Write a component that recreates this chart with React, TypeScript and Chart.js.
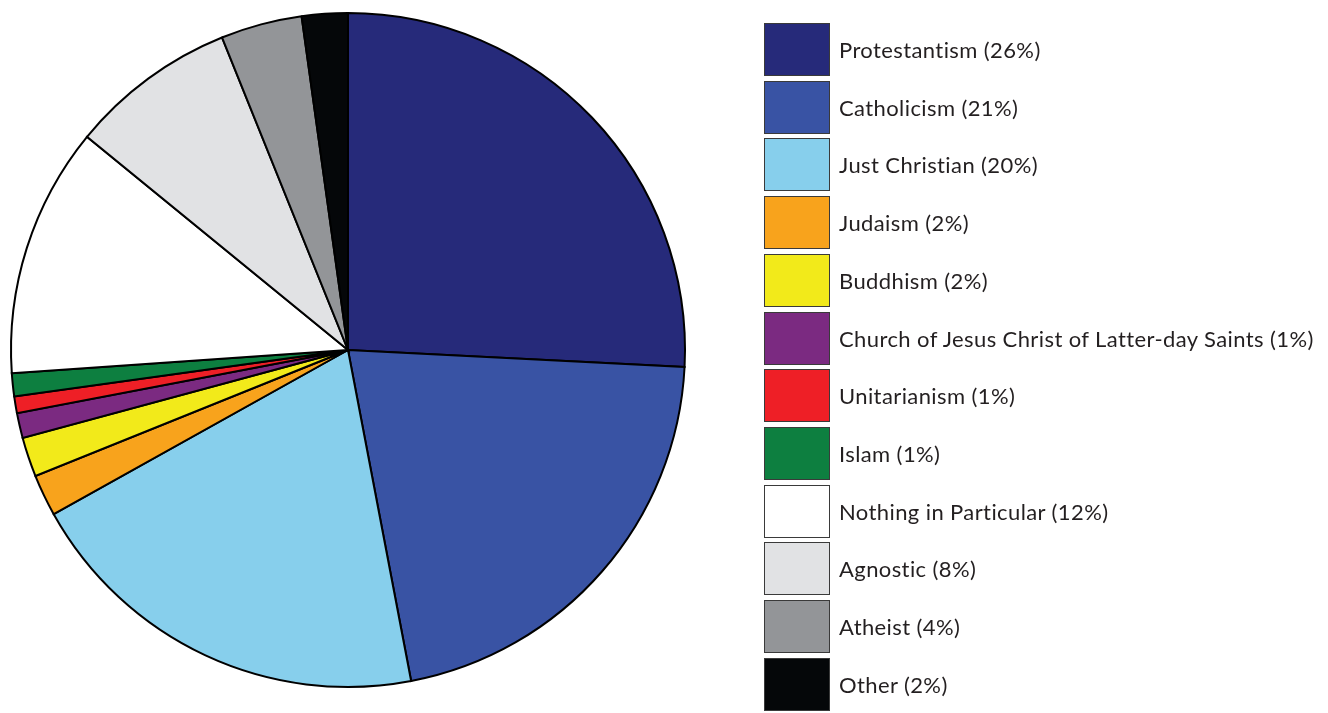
import React, { useEffect, useRef } from "react";
import { Chart, registerables } from "chart.js";

Chart.register(...registerables);

const categories = [
  "Protestantism",
  "Catholicism",
  "Just Christian",
  "Judaism",
  "Buddhism",
  "Church of Jesus Christ of Latter-day Saints",
  "Unitarianism",
  "Islam",
  "Nothing in Particular",
  "Agnostic",
  "Atheist",
  "Other",
];
// slice shares
const values = [25.8, 21.2, 19.9, 2.0, 1.9, 1.2, 0.8, 1.1, 12.0, 8.0, 3.9, 2.2];
// percentages as printed in the legend
const legendPercents = ["26%", "21%", "20%", "2%", "2%", "1%", "1%", "1%", "12%", "8%", "4%", "2%"];
const colors = [
  "#262a7a",
  "#3953a4",
  "#87cfec",
  "#f8a31c",
  "#f2ea1a",
  "#7b2a81",
  "#ee1f26",
  "#0d7f40",
  "#ffffff",
  "#e1e2e4",
  "#939598",
  "#050709",
];

const W = 1328;
const H = 713;

export default function App() {
  const canvasRef = useRef<HTMLCanvasElement | null>(null);

  useEffect(() => {
    const canvas = canvasRef.current;
    if (!canvas) return;
    const chart = new Chart(canvas, {
      type: "pie",
      data: {
        labels: categories,
        datasets: [
          {
            data: values,
            backgroundColor: colors,
            borderColor: "#000000",
            borderWidth: 2,
            borderJoinStyle: "miter",
          },
        ],
      },
      options: {
        animation: false,
        responsive: true,
        maintainAspectRatio: false,
        layout: { padding: { left: 10, top: 12, right: W - 686, bottom: H - 688 } },
        plugins: {
          legend: { display: false },
          tooltip: { enabled: false },
        },
      },
    });
    return () => chart.destroy();
  }, []);

  return (
    <div style={{ position: "fixed", left: 0, top: 0, width: W, height: H, background: "#ffffff" }}>
      <div style={{ position: "absolute", left: 0, top: 0, width: W, height: H }}>
        <canvas ref={canvasRef} />
      </div>
      {categories.map((c, i) => (
        <div
          key={c}
          style={{
            position: "absolute",
            left: 764,
            top: 23 + i * 57.7,
            height: 53,
            display: "flex",
            alignItems: "center",
            whiteSpace: "nowrap",
          }}
        >
          <div
            style={{
              width: 66,
              height: 53,
              boxSizing: "border-box",
              border: "1.2px solid #3a3a3a",
              background: colors[i],
            }}
          />
          <span
            style={{
              marginLeft: 9,
              fontFamily: "Lato, 'Open Sans', sans-serif",
              fontSize: 22,
              letterSpacing: "0.4px",
              color: "#231f20",
            }}
          >
            {`${c} (${legendPercents[i]})`}
          </span>
        </div>
      ))}
    </div>
  );
}
